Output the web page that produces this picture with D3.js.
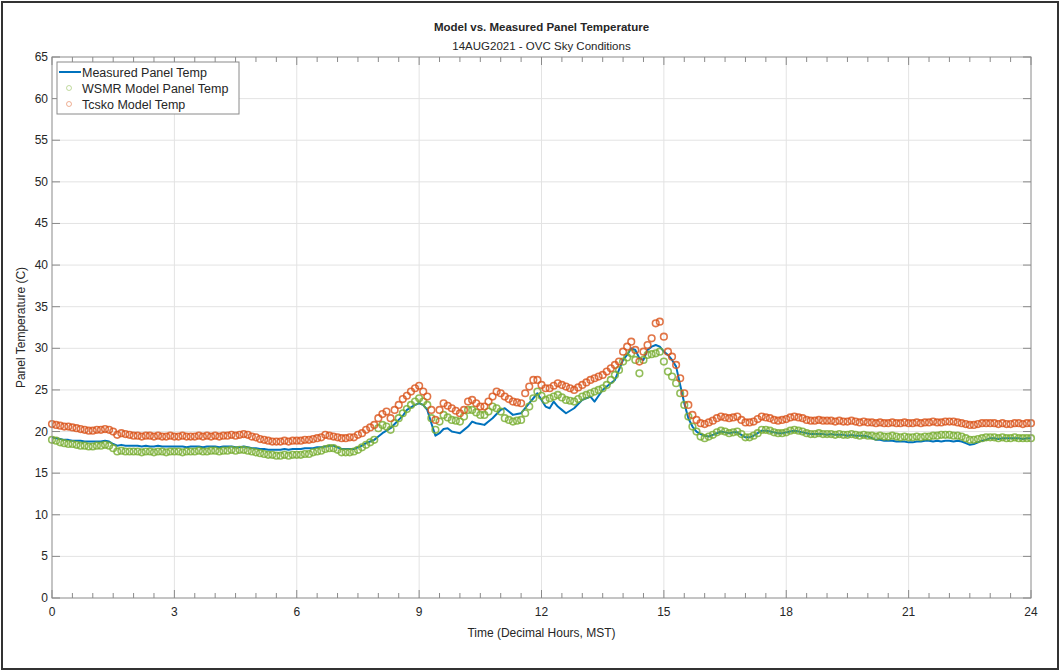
<!DOCTYPE html>
<html>
<head>
<meta charset="utf-8">
<script src="https://cdn.jsdelivr.net/npm/d3@7"></script>
<style>
    body { margin: 0; background: #fff; }
    svg text { font-family: "Liberation Sans", Arial, sans-serif; fill: #262626; }
</style>
</head>
<body>
<div class="chart-container"></div>
<script>
// time runs 0..24 h in 0.1 h steps
var hourStep = 0.1;

var measuredTemp = [
    19.3, 19.2, 19.1, 19.0, 19.0, 18.9, 18.9, 18.9, 18.8, 18.8,
    18.8, 18.8, 18.8, 18.9, 18.8, 18.5, 18.3, 18.4, 18.3, 18.3,
    18.3, 18.3, 18.2, 18.3, 18.2, 18.2, 18.3, 18.2, 18.2, 18.2,
    18.2, 18.2, 18.2, 18.1, 18.2, 18.2, 18.2, 18.1, 18.2, 18.2,
    18.2, 18.1, 18.2, 18.2, 18.2, 18.1, 18.1, 18.2, 18.1, 18.0,
    18.0, 17.9, 17.9, 17.8, 17.8, 17.8, 17.8, 17.9, 17.8, 17.9,
    17.9, 17.9, 18.0, 18.0, 18.0, 18.1, 18.1, 18.2, 18.3, 18.3,
    18.1, 17.9, 17.9, 17.9, 17.9, 18.1, 18.3, 18.6, 18.8, 19.0,
    19.4, 19.8, 20.1, 20.4, 20.9, 21.4, 21.9, 22.6, 22.9, 23.2,
    23.4, 23.2, 22.6, 21.0, 19.5, 19.8, 20.3, 20.4, 20.0, 19.9,
    19.8, 20.2, 20.6, 21.2, 21.0, 20.9, 20.8, 21.2, 21.6, 22.1,
    22.6, 22.8, 22.4, 22.0, 22.1, 22.2, 22.8, 23.4, 24.0, 24.6,
    23.8, 23.0, 22.8, 23.6, 23.0, 22.6, 22.2, 22.5, 22.8, 23.3,
    23.8, 24.0, 24.2, 23.6, 24.3, 25.0, 25.4, 25.8, 26.2, 27.4,
    28.6, 29.2, 30.0, 29.8, 28.8, 28.6, 29.8, 30.2, 30.4, 30.2,
    29.6, 29.2, 28.6, 27.8, 25.6, 23.4, 21.6, 20.6, 20.0, 19.7,
    19.5, 19.4, 19.6, 19.8, 20.0, 19.9, 19.8, 19.9, 19.9, 19.6,
    19.3, 19.3, 19.5, 19.8, 20.1, 20.1, 20.0, 19.9, 19.8, 19.8,
    19.9, 20.0, 20.1, 20.0, 19.9, 19.8, 19.7, 19.7, 19.7, 19.7,
    19.6, 19.7, 19.6, 19.6, 19.6, 19.5, 19.6, 19.5, 19.5, 19.5,
    19.4, 19.2, 19.0, 19.0, 18.9, 18.9, 18.9, 18.8, 18.8, 18.8,
    18.7, 18.7, 18.8, 18.8, 18.9, 18.9, 18.8, 18.9, 18.8, 18.9,
    18.9, 18.8, 18.9, 18.8, 18.6, 18.4, 18.5, 18.7, 18.9, 19.0,
    19.2, 19.2, 19.1, 19.2, 19.2, 19.2, 19.2, 19.2, 19.1, 19.2,
    19.2
];

var wsmrTemp = [
    19.0, 18.9, 18.7, 18.6, 18.5, 18.5, 18.4, 18.3, 18.3, 18.2,
    18.2, 18.3, 18.3, 18.4, 18.3, 18.0, 17.6, 17.7, 17.6, 17.6,
    17.6, 17.6, 17.5, 17.6, 17.6, 17.5, 17.6, 17.6, 17.5, 17.6,
    17.6, 17.6, 17.5, 17.6, 17.6, 17.6, 17.7, 17.6, 17.6, 17.7,
    17.7, 17.6, 17.7, 17.7, 17.8, 17.7, 17.8, 17.8, 17.7, 17.6,
    17.5, 17.4, 17.3, 17.2, 17.2, 17.1, 17.1, 17.2, 17.1, 17.2,
    17.2, 17.2, 17.3, 17.3, 17.5, 17.6, 17.7, 17.9, 18.0, 18.0,
    17.8, 17.5, 17.5, 17.5, 17.6, 17.8, 18.1, 18.4, 18.7, 19.0,
    20.4, 20.8, 20.6, 20.2, 21.0, 21.6, 22.2, 22.7, 23.2, 23.6,
    24.0, 23.6, 23.2, 21.6, 20.2, 21.2, 22.0, 21.7, 21.4, 21.3,
    21.2, 21.8, 22.6, 22.6, 22.3, 22.0, 22.0, 22.4, 23.0, 22.8,
    22.4, 21.6, 21.4, 21.2, 21.3, 21.4, 22.2, 23.0, 24.0, 24.8,
    24.3, 23.8, 24.0, 24.2, 24.4, 24.1, 23.8, 23.7, 23.6, 23.9,
    24.2, 24.4, 24.6, 24.8, 25.0, 25.2, 25.6, 26.2, 26.8, 27.4,
    28.4, 28.9, 29.4, 28.6, 27.0, 28.6, 29.2, 29.3, 29.4, 29.6,
    28.4, 27.2, 26.6, 25.8, 24.6, 23.2, 21.8, 20.6, 20.0, 19.4,
    19.2, 19.4, 19.6, 19.9, 20.1, 20.0, 19.8, 19.9, 20.0, 19.7,
    19.3, 19.3, 19.5, 19.8, 20.2, 20.2, 20.1, 19.9, 19.8, 19.8,
    19.9, 20.1, 20.2, 20.1, 20.0, 19.8, 19.7, 19.7, 19.8, 19.7,
    19.7, 19.7, 19.6, 19.7, 19.6, 19.6, 19.7, 19.6, 19.5, 19.6,
    19.5, 19.5, 19.4, 19.5, 19.4, 19.4, 19.5, 19.4, 19.3, 19.4,
    19.3, 19.3, 19.4, 19.3, 19.4, 19.4, 19.5, 19.5, 19.6, 19.6,
    19.6, 19.5, 19.5, 19.4, 19.2, 19.0, 19.0, 19.1, 19.2, 19.3,
    19.3, 19.3, 19.2, 19.3, 19.2, 19.2, 19.3, 19.2, 19.2, 19.2,
    19.2
];

var tcskoTemp = [
    20.9, 20.8, 20.7, 20.6, 20.6, 20.5, 20.4, 20.3, 20.2, 20.1,
    20.1, 20.2, 20.2, 20.3, 20.2, 20.0, 19.6, 19.8, 19.7, 19.6,
    19.5, 19.5, 19.4, 19.5, 19.5, 19.4, 19.5, 19.4, 19.4, 19.5,
    19.4, 19.4, 19.5, 19.4, 19.4, 19.4, 19.5, 19.4, 19.5, 19.4,
    19.5, 19.4, 19.5, 19.5, 19.6, 19.5, 19.6, 19.7, 19.6, 19.4,
    19.3, 19.1, 19.0, 18.9, 18.8, 18.8, 18.8, 18.9, 18.8, 18.9,
    18.9, 18.9, 19.0, 19.0, 19.1, 19.2, 19.3, 19.6, 19.5, 19.4,
    19.3, 19.2, 19.2, 19.3, 19.3, 19.6, 19.8, 20.2, 20.5, 20.8,
    21.6, 22.1, 22.4, 21.6, 22.6, 23.2, 23.9, 24.3, 24.8, 25.2,
    25.5, 24.8, 24.2, 22.6, 21.4, 22.6, 23.4, 23.1, 22.8, 22.5,
    22.2, 22.6, 23.6, 23.8, 23.4, 23.0, 23.0, 23.6, 24.2, 24.8,
    24.6, 24.2, 23.9, 23.6, 23.5, 23.4, 24.6, 25.4, 26.2, 26.2,
    25.6, 25.2, 25.2, 25.5, 25.8, 25.6, 25.4, 25.2, 25.0, 25.3,
    25.6, 25.9, 26.2, 26.4, 26.6, 26.8, 27.2, 27.6, 28.0, 28.4,
    29.6, 30.2, 30.8, 29.8, 28.4, 29.6, 30.4, 31.2, 33.0, 33.2,
    31.4, 29.6, 29.0, 28.0, 26.4, 24.6, 23.2, 22.0, 21.4, 21.0,
    20.9, 21.1, 21.3, 21.6, 21.8, 21.7, 21.6, 21.7, 21.8, 21.4,
    21.1, 21.1, 21.2, 21.5, 21.8, 21.7, 21.6, 21.4, 21.3, 21.4,
    21.5, 21.7, 21.8, 21.7, 21.6, 21.4, 21.3, 21.3, 21.4, 21.3,
    21.3, 21.3, 21.2, 21.3, 21.2, 21.2, 21.3, 21.2, 21.1, 21.2,
    21.1, 21.1, 21.0, 21.1, 21.0, 21.0, 21.1, 21.0, 21.0, 21.1,
    21.0, 21.0, 21.1, 21.0, 21.1, 21.1, 21.2, 21.1, 21.1, 21.2,
    21.2, 21.2, 21.1, 21.0, 20.9, 20.8, 20.8, 20.9, 21.0, 21.0,
    21.0, 21.0, 20.9, 21.0, 20.9, 20.9, 21.0, 21.0, 20.9, 21.0,
    21.0
];

var xTicks = [0, 3, 6, 9, 12, 15, 18, 21, 24];
var yTicks = [0, 5, 10, 15, 20, 25, 30, 35, 40, 45, 50, 55, 60, 65];
var seriesNames = ["Measured Panel Temp", "WSMR Model Panel Temp", "Tcsko Model Temp"];
var seriesColors = ["#0072BD", "#77AC30", "#D95319"];

var chart = {
    width: 1061,
    height: 672,
    left: 52,
    right: 1031,
    top: 57,
    bottom: 598,
    svg: null,
};

(function () {
    var svg = d3.select(".chart-container").append("svg")
        .attr("width", chart.width)
        .attr("height", chart.height);
    chart.svg = svg;

    svg.append("rect")
        .attr("width", chart.width).attr("height", chart.height)
        .attr("fill", "#fff");

    // figure frame
    svg.append("rect")
        .attr("x", 2).attr("y", 2)
        .attr("width", chart.width - 5).attr("height", chart.height - 5)
        .attr("fill", "none")
        .attr("stroke", "#333")
        .attr("stroke-width", 2);

    var x = d3.scaleLinear().domain([0, 24]).range([chart.left, chart.right]);
    var y = d3.scaleLinear().domain([0, 65]).range([chart.bottom, chart.top]);

    // grid
    var grid = svg.append("g").attr("class", "grid");
    grid.selectAll("line.gx").data(xTicks.slice(1, -1)).enter().append("line")
        .attr("x1", function (d) { return x(d); })
        .attr("x2", function (d) { return x(d); })
        .attr("y1", chart.top).attr("y2", chart.bottom)
        .attr("stroke", "#e3e3e3").attr("stroke-width", 1);
    grid.selectAll("line.gy").data(yTicks.slice(1, -1)).enter().append("line")
        .attr("y1", function (d) { return y(d); })
        .attr("y2", function (d) { return y(d); })
        .attr("x1", chart.left).attr("x2", chart.right)
        .attr("stroke", "#e3e3e3").attr("stroke-width", 1);

    // measured line
    var times = measuredTemp.map(function (d, i) { return i * hourStep; });
    var line = d3.line()
        .x(function (d, i) { return x(times[i]); })
        .y(function (d) { return y(d); });

    svg.append("path")
        .datum(measuredTemp)
        .attr("fill", "none")
        .attr("stroke", seriesColors[0])
        .attr("stroke-width", 2)
        .attr("stroke-linejoin", "round")
        .attr("d", line);

    // model markers
    [wsmrTemp, tcskoTemp].forEach(function (values, k) {
        svg.append("g").selectAll("circle")
            .data(values).enter().append("circle")
            .attr("cx", function (d, i) { return x(i * hourStep); })
            .attr("cy", function (d) { return y(d); })
            .attr("r", 3.3)
            .attr("fill", "none")
            .attr("stroke", seriesColors[k + 1])
            .attr("stroke-opacity", 0.8)
            .attr("stroke-width", 1.6);
    });

    // axes box
    svg.append("rect")
        .attr("x", chart.left).attr("y", chart.top)
        .attr("width", chart.right - chart.left)
        .attr("height", chart.bottom - chart.top)
        .attr("fill", "none")
        .attr("stroke", "#8a8a8a")
        .attr("stroke-width", 1);

    var ticks = svg.append("g").attr("stroke", "#8a8a8a").attr("stroke-width", 1);
    var minorX = d3.range(0, 24.01, 0.5);
    minorX.forEach(function (t) {
        var len = (t % 3 === 0) ? 8 : 5;
        ticks.append("line").attr("x1", x(t)).attr("x2", x(t))
            .attr("y1", chart.bottom).attr("y2", chart.bottom - len);
        ticks.append("line").attr("x1", x(t)).attr("x2", x(t))
            .attr("y1", chart.top).attr("y2", chart.top + len);
    });
    yTicks.forEach(function (t) {
        ticks.append("line").attr("y1", y(t)).attr("y2", y(t))
            .attr("x1", chart.left).attr("x2", chart.left + 8);
        ticks.append("line").attr("y1", y(t)).attr("y2", y(t))
            .attr("x1", chart.right).attr("x2", chart.right - 8);
    });

    // tick labels
    svg.append("g").selectAll("text").data(xTicks).enter().append("text")
        .attr("x", function (d) { return x(d); })
        .attr("y", chart.bottom + 18)
        .attr("text-anchor", "middle")
        .style("font-size", "12px")
        .text(function (d) { return d; });
    svg.append("g").selectAll("text").data(yTicks).enter().append("text")
        .attr("x", chart.left - 4)
        .attr("y", function (d) { return y(d) + 4; })
        .attr("text-anchor", "end")
        .style("font-size", "12px")
        .text(function (d) { return d; });

    // titles
    var cx = (chart.left + chart.right) / 2;
    svg.append("text").attr("x", cx).attr("y", 31)
        .attr("text-anchor", "middle")
        .style("font-size", "11.5px").style("font-weight", "bold")
        .text("Model vs. Measured Panel Temperature");
    svg.append("text").attr("x", cx).attr("y", 50)
        .attr("text-anchor", "middle")
        .style("font-size", "11.5px")
        .text("14AUG2021 - OVC Sky Conditions");
    svg.append("text").attr("x", cx).attr("y", 637)
        .attr("text-anchor", "middle")
        .style("font-size", "12px")
        .text("Time (Decimal Hours, MST)");
    svg.append("text")
        .attr("transform", "translate(25," + ((chart.top + chart.bottom) / 2) + ") rotate(-90)")
        .attr("text-anchor", "middle")
        .style("font-size", "12px")
        .text("Panel Temperature (C)");

    // legend
    var legend = svg.append("g").attr("transform", "translate(57,62)");
    legend.append("rect")
        .attr("width", 182).attr("height", 52)
        .attr("fill", "#fff")
        .attr("stroke", "#8a8a8a").attr("stroke-width", 1);
    seriesNames.forEach(function (name, i) {
        var ly = 10 + i * 16;
        if (i === 0) {
            legend.append("line")
                .attr("x1", 2).attr("x2", 24)
                .attr("y1", ly).attr("y2", ly)
                .attr("stroke", seriesColors[0]).attr("stroke-width", 2);
        } else {
            legend.append("circle")
                .attr("cx", 12).attr("cy", ly).attr("r", 2.5)
                .attr("fill", "none")
                .attr("stroke", seriesColors[i])
                .attr("stroke-opacity", 0.45)
                .attr("stroke-width", 1);
        }
        legend.append("text")
            .attr("x", 25).attr("y", ly + 4.5)
            .style("font-size", "12.5px")
            .text(name);
    });
})();
</script>
</body>
</html>
